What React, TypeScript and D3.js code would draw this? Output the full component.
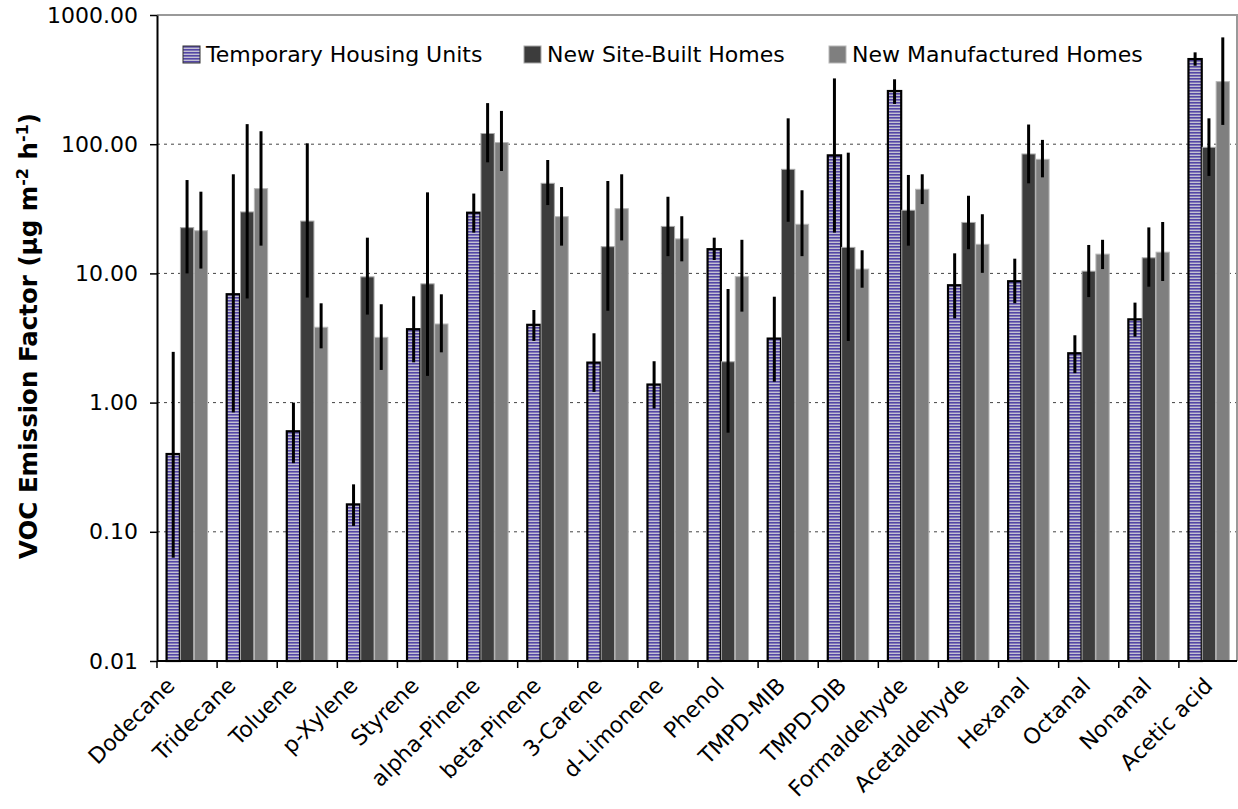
import React, { useEffect, useRef } from 'react';
import * as d3 from 'd3';

const categories = ['Dodecane', 'Tridecane', 'Toluene', 'p-Xylene', 'Styrene', 'alpha-Pinene', 'beta-Pinene', '3-Carene', 'd-Limonene', 'Phenol', 'TMPD-MIB', 'TMPD-DIB', 'Formaldehyde', 'Acetaldehyde', 'Hexanal', 'Octanal', 'Nonanal', 'Acetic acid'];

const seriesNames = ['Temporary Housing Units', 'New Site-Built Homes', 'New Manufactured Homes'];

const thuValues = [0.40, 6.9, 0.60, 0.163, 3.7, 29.5, 4.0, 2.04, 1.38, 15.4, 3.13, 82, 258, 8.1, 8.7, 2.41, 4.41, 456];
const thuLow = [0.063, 0.84, 0.34, 0.111, 2.05, 20.7, 3.0, 1.21, 0.90, 12.7, 1.45, 20.7, 205, 4.49, 5.87, 1.69, 3.24, 405];
const thuHigh = [2.47, 58.5, 1.0, 0.233, 6.65, 41.5, 5.21, 3.44, 2.09, 18.9, 6.6, 323, 318, 14.3, 13.0, 3.32, 5.94, 514];

const siteValues = [22.6, 29.9, 25.4, 9.4, 8.3, 121, 49.8, 16.1, 23.1, 2.07, 63.9, 15.9, 30.8, 24.8, 84, 10.4, 13.2, 94.6];
const siteLow = [10.0, 6.4, 6.5, 4.8, 1.61, 72.4, 33.8, 5.14, 13.6, 0.585, 25.1, 3.0, 16.4, 15.4, 49.8, 6.56, 7.89, 56.8];
const siteHigh = [52.8, 143, 101.6, 18.9, 42.4, 208, 75.5, 51.9, 39.2, 7.57, 158.6, 86, 57.8, 39.9, 142, 16.6, 22.7, 158.6];

const manufValues = [21.4, 45.3, 3.83, 3.2, 4.06, 103, 27.5, 31.7, 18.5, 9.43, 24.0, 10.8, 44.8, 16.8, 76.4, 14.1, 14.6, 305];
const manufLow = [10.9, 16.4, 2.63, 1.79, 2.45, 62, 16.4, 18.0, 12.4, 5.06, 13.6, 7.75, 34.4, 10.1, 55.4, 10.8, 8.73, 141];
const manufHigh = [42.9, 126, 5.87, 5.77, 6.89, 181, 46.6, 58.5, 27.7, 18.2, 44, 15.1, 58.5, 28.7, 108, 18.2, 25.0, 671];

const yTicks = [0.01, 0.1, 1, 10, 100, 1000];

interface Bar {
  cat: string;
  key: number;
  value: number;
  low: number;
  high: number;
}

const App: React.FC = () => {
  const svgRef = useRef<SVGSVGElement>(null);

  useEffect(() => {
    if (!svgRef.current) return;
    const width = 1238;
    const height = 809;
    const left = 157, right = 1239, top = 15, bottom = 661;
    const font = "'DejaVu Sans', Verdana, sans-serif";

    const root = d3.select(svgRef.current);
    root.selectAll('*').remove();
    root.attr('width', width).attr('height', height);

    // striped fill for the first series
    const pat = root.append('defs').append('pattern')
      .attr('id', 'stripes')
      .attr('patternUnits', 'userSpaceOnUse')
      .attr('width', 4)
      .attr('height', 3);
    pat.append('rect').attr('width', 4).attr('height', 3).attr('fill', '#c4c1d2');
    pat.append('rect').attr('width', 4).attr('height', 1.6).attr('fill', '#5446a6');

    const x0 = d3.scaleBand<string>()
      .domain(categories)
      .range([left, right])
      .paddingInner(0.3)
      .paddingOuter(0.15);

    const x1 = d3.scaleBand<number>()
      .domain([0, 1, 2])
      .range([0, x0.bandwidth()])
      .padding(0.04);

    // category labels sit on a slightly wider spread than the bars
    const xLabel = d3.scalePoint<string>()
      .domain(categories)
      .range([176, 1214]);

    const y = d3.scaleLog()
      .domain([0.01, 1000])
      .range([bottom, top]);

    const fills = ['url(#stripes)', '#3c3c3c', '#7f7f7f'];
    const strokes = ['#000', '#a8a8a8', '#b8b8b8'];
    const strokeWidths = [2.2, 1, 1];

    // Grid lines
    root.append('g')
      .selectAll('line')
      .data(yTicks.slice(1, -1))
      .join('line')
      .attr('x1', left)
      .attr('x2', 1237)
      .attr('y1', d => y(d))
      .attr('y2', d => y(d))
      .attr('stroke', '#444')
      .attr('stroke-width', 1)
      .attr('stroke-dasharray', '3,4');

    // frame top / right
    root.append('path')
      .attr('d', `M${left},${top}H1237V${bottom}`)
      .attr('fill', 'none')
      .attr('stroke', '#999')
      .attr('stroke-width', 2);

    const bars: Bar[][] = categories.map((c, i) => [
      { cat: c, key: 0, value: thuValues[i], low: thuLow[i], high: thuHigh[i] },
      { cat: c, key: 1, value: siteValues[i], low: siteLow[i], high: siteHigh[i] },
      { cat: c, key: 2, value: manufValues[i], low: manufLow[i], high: manufHigh[i] },
    ]);

    const groups = root.append('g')
      .selectAll('g')
      .data(bars)
      .join('g')
      .attr('transform', d => `translate(${x0(d[0].cat)},0)`);

    groups.selectAll('rect')
      .data(d => d)
      .join('rect')
      .attr('x', d => x1(d.key) || 0)
      .attr('y', d => y(d.value))
      .attr('width', x1.bandwidth())
      .attr('height', d => bottom - y(d.value))
      .attr('fill', d => fills[d.key])
      .attr('stroke', d => strokes[d.key])
      .attr('stroke-width', d => strokeWidths[d.key]);

    // Error bars
    groups.selectAll('line')
      .data(d => d)
      .join('line')
      .attr('x1', d => (x1(d.key) || 0) + x1.bandwidth() / 2)
      .attr('x2', d => (x1(d.key) || 0) + x1.bandwidth() / 2)
      .attr('y1', d => y(d.low))
      .attr('y2', d => y(d.high))
      .attr('stroke', '#000')
      .attr('stroke-width', 3);

    // Y axis
    const yAxis = root.append('g')
      .attr('transform', `translate(${left},0)`)
      .call(d3.axisLeft(y).tickValues(yTicks).tickFormat(d => d3.format('.2f')(d as number)).tickSize(7).tickSizeOuter(0));
    yAxis.select('.domain').attr('stroke', '#000').attr('stroke-width', 2);
    yAxis.selectAll('.tick line').attr('stroke', '#000').attr('stroke-width', 1.5);
    yAxis.selectAll('text')
      .attr('x', -19)
      .style('font-family', font)
      .style('font-size', '22px')
      .style('fill', '#000');

    // X axis
    const step = x0.step();
    const boundaries = d3.range(categories.length + 1).map(i => left + i * step);
    root.append('line')
      .attr('x1', left).attr('x2', 1237)
      .attr('y1', bottom).attr('y2', bottom)
      .attr('stroke', '#000').attr('stroke-width', 2);
    root.append('g')
      .selectAll('line')
      .data(boundaries.filter(b => b < 1238))
      .join('line')
      .attr('x1', d => d).attr('x2', d => d)
      .attr('y1', bottom).attr('y2', bottom + 7)
      .attr('stroke', '#000').attr('stroke-width', 1.5);

    root.append('g')
      .selectAll('text')
      .data(categories)
      .join('text')
      .attr('transform', d => `translate(${xLabel(d)},${bottom + 26}) rotate(-45)`)
      .attr('text-anchor', 'end')
      .style('font-family', font)
      .style('font-size', '22px')
      .style('fill', '#000')
      .text(d => d);

    // Y label
    const yl = root.append('text')
      .attr('transform', `translate(37,${(top + bottom) / 2 - 2}) rotate(-90)`)
      .attr('text-anchor', 'middle')
      .style('font-family', font)
      .style('font-weight', 'bold')
      .style('font-size', '24.5px')
      .style('fill', '#000');
    yl.append('tspan').text('VOC Emission Factor (µg m');
    yl.append('tspan').attr('dy', -9).style('font-size', '16px').text('-2');
    yl.append('tspan').attr('dy', 9).text(' h');
    yl.append('tspan').attr('dy', -9).style('font-size', '16px').text('-1');
    yl.append('tspan').attr('dy', 9).text(')');

    // Legend
    const legendX = [183, 524, 829];
    const legend = root.append('g');
    seriesNames.forEach((name, i) => {
      const g = legend.append('g').attr('transform', `translate(${legendX[i]},46)`);
      g.append('rect')
        .attr('width', 17)
        .attr('height', 17)
        .attr('fill', fills[i])
        .attr('stroke', i === 0 ? '#333' : strokes[i])
        .attr('stroke-width', 1);
      g.append('text')
        .attr('x', 23)
        .attr('y', 16)
        .style('font-family', font)
        .style('font-size', '22px')
        .style('fill', '#000')
        .text(name);
    });
  }, []);

  return (
    <div style={{ position: 'absolute', left: 0, top: 0, background: '#fff' }}>
      <svg ref={svgRef} style={{ display: 'block' }} />
    </div>
  );
};

export default App;
